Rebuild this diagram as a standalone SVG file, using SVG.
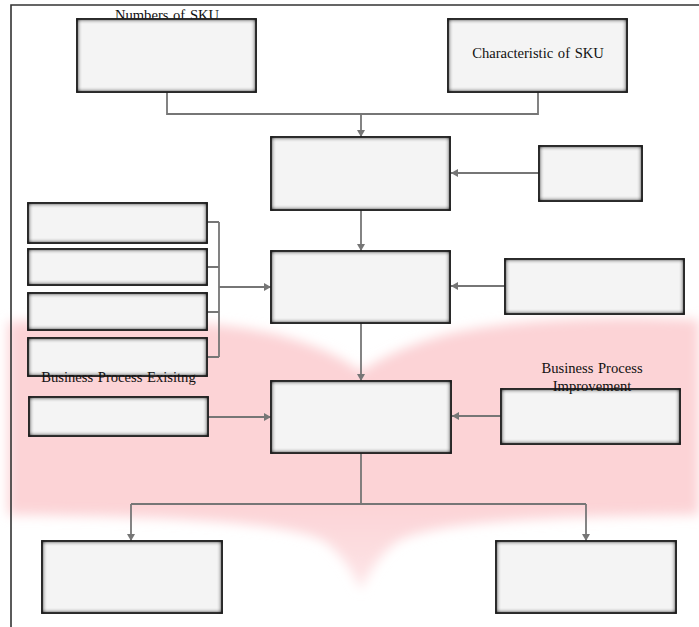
<svg xmlns="http://www.w3.org/2000/svg" width="699" height="627" viewBox="0 0 699 627">
<defs>
<style>
.box{fill:#f4f4f4;stroke:#262626;stroke-width:1.7;filter:url(#inset)}
.conn{fill:none;stroke:#767676;stroke-width:1.8}
.lbl{font-family:"Liberation Serif","Times New Roman",serif;font-size:14.6px;fill:#111;text-anchor:middle;word-spacing:1px}
.frame{stroke:#333;stroke-width:1.6;fill:none}
</style>
<filter id="inset" x="-10%" y="-20%" width="120%" height="140%" color-interpolation-filters="sRGB">
<feFlood flood-color="#1e1e1e" result="f"/>
<feComposite in="f" in2="SourceAlpha" operator="out" result="o"/>
<feGaussianBlur in="o" stdDeviation="2.8" result="b"/>
<feComponentTransfer in="b" result="b2"><feFuncA type="linear" slope="1.8" intercept="0"/></feComponentTransfer>
<feComposite in="b2" in2="SourceAlpha" operator="in" result="s"/>
<feMerge><feMergeNode in="SourceGraphic"/><feMergeNode in="s"/></feMerge>
</filter>
<filter id="soft" x="-10%" y="-20%" width="120%" height="140%">
<feGaussianBlur stdDeviation="6"/>
</filter>
<linearGradient id="pinkfade" x1="0" y1="0" x2="0" y2="1">
<stop offset="0" stop-color="#fcd3d6"/>
<stop offset="0.68" stop-color="#fcd3d6"/>
<stop offset="1" stop-color="#fde6e8"/>
</linearGradient>
<marker id="arr" markerUnits="userSpaceOnUse" markerWidth="10" markerHeight="10" refX="8" refY="5" orient="auto">
<path d="M1,1 L8,5 L1,9 Z" fill="#767676"/>
</marker>
</defs>
<rect width="699" height="627" fill="#ffffff"/>
<g id="watermark">
<path d="M8,322 C90,318 200,318 270,333 C320,345 345,360 361,372 C378,360 405,345 452,333 C520,318 620,316 699,320 L699,515 C560,516 440,520 400,540 C380,552 368,575 361,590 C354,575 342,552 322,540 C280,520 150,516 8,515 Z" fill="url(#pinkfade)" filter="url(#soft)"/>
</g>
<g id="frame">
<path class="frame" d="M11,627 V5 H699"/>
</g>
<text class="lbl" x="167" y="20">Numbers of SKU</text>
<g id="connectors">
<path class="conn" d="M167,92 V114 H538 V92"/>
<path class="conn" d="M361,114 V137" marker-end="url(#arr)"/>
<path class="conn" d="M539,173 H451" marker-end="url(#arr)"/>
<path class="conn" d="M361,210 V251" marker-end="url(#arr)"/>
<path class="conn" d="M505,286 H451" marker-end="url(#arr)"/>
<path class="conn" d="M207,222 H219 M207,267 H219 M207,312 H219 M207,357 H219 M219,222 V357"/>
<path class="conn" d="M219,287 H271" marker-end="url(#arr)"/>
<path class="conn" d="M361,323 V381" marker-end="url(#arr)"/>
<path class="conn" d="M208,417 H271" marker-end="url(#arr)"/>
<path class="conn" d="M501,416 H452" marker-end="url(#arr)"/>
<path class="conn" d="M361,453 V504 M131,504 H586"/>
<path class="conn" d="M131,504 V541" marker-end="url(#arr)"/>
<path class="conn" d="M586,504 V541" marker-end="url(#arr)"/>
</g>
<g id="n-numbers"><rect class="box" x="77" y="19" width="179" height="73"/></g>
<g id="n-characteristic"><rect class="box" x="448" y="19" width="179" height="73"/><text class="lbl" x="538" y="58">Characteristic of SKU</text></g>
<g id="n-top"><rect class="box" x="271" y="137" width="179" height="73"/></g>
<g id="n-right1"><rect class="box" x="539" y="146" width="103" height="55"/></g>
<g id="n-middle"><rect class="box" x="271" y="251" width="179" height="72"/></g>
<g id="n-right2"><rect class="box" x="505" y="259" width="179" height="55"/></g>
<g id="n-bottom"><rect class="box" x="271" y="381" width="180" height="72"/></g>
<g id="n-bpi"><rect class="box" x="501" y="389" width="179" height="55"/><text class="lbl" x="592" y="373">Business Process</text><text class="lbl" x="592" y="391">Improvement</text></g>
<g id="n-left1"><rect class="box" x="28" y="203" width="179" height="40"/></g>
<g id="n-left2"><rect class="box" x="28" y="249" width="179" height="36"/></g>
<g id="n-left3"><rect class="box" x="28" y="293" width="179" height="37"/></g>
<g id="n-left4"><rect class="box" x="28" y="338" width="179" height="38"/><text class="lbl" x="118.5" y="382">Business Process Exisitng</text></g>
<g id="n-left5"><rect class="box" x="29" y="397" width="179" height="39"/></g>
<g id="n-out1"><rect class="box" x="42" y="541" width="180" height="72"/></g>
<g id="n-out2"><rect class="box" x="496" y="541" width="180" height="72"/></g>
</svg>
